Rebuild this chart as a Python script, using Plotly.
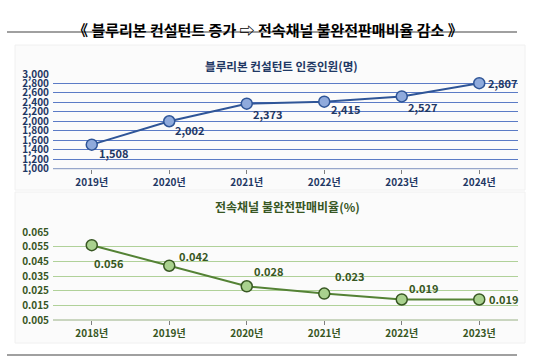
import plotly.graph_objects as go

top_years = ["2019년", "2020년", "2021년", "2022년", "2023년", "2024년"]
top_values = [1508, 2002, 2373, 2415, 2527, 2807]
top_labels = ["1,508", "2,002", "2,373", "2,415", "2,527", "2,807"]
top_title = "블루리본 컨설턴트 인증인원(명)"

bot_years = ["2018년", "2019년", "2020년", "2021년", "2022년", "2023년"]
bot_values = [0.056, 0.042, 0.028, 0.023, 0.019, 0.019]
bot_labels = ["0.056", "0.042", "0.028", "0.023", "0.019", "0.019"]
bot_title = "전속채널 불완전판매비율(%)"

main_title = "《 블루리본 컨설턴트 증가 ⇨ 전속채널 불완전판매비율 감소 》"

# label offsets (style): pixels right / down from each point
top_dx = [22, 21, 21, 21.5, 21.5, 24]
top_dy = [8.4, 8.7, 10.3, 7.3, 10.3, 0]
bot_dx = [17, 24.5, 22, 25.5, 22, 24.5]
bot_dy = [17.5, -10, -15, -17.6, -11, 0]

W, H = 540, 359
FONT = "Noto Sans CJK KR"
BLUE_TXT = "#1F3864"
GREEN_TXT = "#375623"

def px(x):
    return x / W

def py(y):
    return 1 - y / H

fig = go.Figure()

fig.add_trace(go.Scatter(
    x=top_years, y=top_values, mode="lines+markers",
    line=dict(color="#2F5597", width=2),
    marker=dict(size=11, color="#8FAADC", line=dict(color="#2F5597", width=1.5)),
    xaxis="x", yaxis="y", cliponaxis=False, showlegend=False,
))
fig.add_trace(go.Scatter(
    x=bot_years, y=bot_values, mode="lines+markers",
    line=dict(color="#548235", width=2),
    marker=dict(size=11, color="#A9D18E", line=dict(color="#385723", width=1.5)),
    xaxis="x2", yaxis="y2", cliponaxis=False, showlegend=False,
))

for xv, yv, t, dx, dy in zip(top_years, top_values, top_labels, top_dx, top_dy):
    fig.add_annotation(x=xv, y=yv, xref="x", yref="y", text=t, showarrow=False,
                       xshift=dx, yshift=-dy,
                       font=dict(family=FONT, size=11, color=BLUE_TXT, weight="bold"))
for xv, yv, t, dx, dy in zip(bot_years, bot_values, bot_labels, bot_dx, bot_dy):
    fig.add_annotation(x=xv, y=yv, xref="x2", yref="y2", text=t, showarrow=False,
                       xshift=dx, yshift=-dy,
                       font=dict(family=FONT, size=11, color=GREEN_TXT, weight="bold"))

xd = [px(53), px(518)]
tickfont_b = dict(family=FONT, size=10, color=BLUE_TXT, weight="bold")
tickfont_g = dict(family=FONT, size=10, color=GREEN_TXT, weight="bold")

fig.update_layout(
    template="none",
    width=W, height=H,
    margin=dict(l=0, r=0, t=0, b=0, pad=0),
    paper_bgcolor="white", plot_bgcolor="rgba(0,0,0,0)",
    font=dict(family=FONT),
    showlegend=False,
    xaxis=dict(domain=xd, anchor="y", type="category", range=[-0.5, 5.5], automargin=False,
               showgrid=False, showline=False, ticks="outside", ticklen=4,
               tickcolor="#7F7F7F", tickfont=tickfont_b),
    yaxis=dict(domain=[py(168.7), py(74)], anchor="x", range=[1000, 3000], dtick=200,
               tickformat=",d", showgrid=True, gridcolor="#5B7BC6", gridwidth=1, automargin=False,
               zeroline=False, showline=False, ticks="", tickfont=tickfont_b,
               ticklabelstandoff=3),
    xaxis2=dict(domain=xd, anchor="y2", type="category", range=[-0.5, 5.5], automargin=False,
                showgrid=False, showline=False, ticks="outside", ticklen=4,
                tickcolor="#7F7F7F", tickfont=tickfont_g),
    yaxis2=dict(domain=[py(320), py(232)], anchor="x2", range=[0.005, 0.065], dtick=0.01,
                tick0=0.005, tickformat=".3f", showgrid=True, gridcolor="#B0D199", automargin=False,
                gridwidth=1.2, zeroline=False, showline=False, ticks="",
                tickfont=tickfont_g, ticklabelstandoff=3),
)

shapes = [
    dict(type="rect", xref="paper", yref="paper", x0=px(15), x1=px(525), y0=py(190), y1=py(45),
         fillcolor="#FBFBFB", line=dict(color="#F0F0F0", width=1), layer="below"),
    dict(type="rect", xref="paper", yref="paper", x0=px(15), x1=px(525), y0=py(343), y1=py(192),
         fillcolor="#FBFBFB", line=dict(color="#F0F0F0", width=1), layer="below"),
    dict(type="line", xref="paper", yref="paper", x0=px(7), x1=px(517), y0=py(32), y1=py(32),
         line=dict(color="#808080", width=1.5)),
    dict(type="line", xref="paper", yref="paper", x0=px(7), x1=px(517), y0=py(355), y1=py(355),
         line=dict(color="#808080", width=1.5)),
    dict(type="line", xref="paper", yref="paper", x0=px(53), x1=px(518), y0=py(168.7), y1=py(168.7),
         line=dict(color="#7F93BF", width=1)),
    dict(type="line", xref="paper", yref="paper", x0=px(53), x1=px(518), y0=py(320), y1=py(320),
         line=dict(color="#98B084", width=1)),
]
fig.update_layout(shapes=shapes)

fig.add_annotation(text="<b>" + main_title + "</b>", xref="paper", yref="paper",
                   x=px(268), y=py(17), showarrow=False,
                   font=dict(family=FONT, size=15, color="#000000"))
fig.add_annotation(text="<b>" + top_title + "</b>", xref="paper", yref="paper",
                   x=px(281), y=py(56), showarrow=False,
                   font=dict(family=FONT, size=11.6, color=BLUE_TXT))
fig.add_annotation(text="<b>" + bot_title + "</b>", xref="paper", yref="paper",
                   x=px(287), y=py(207), showarrow=False,
                   font=dict(family=FONT, size=12, color=GREEN_TXT))

fig.write_html("out.html", config={"displayModeBar": False},
               post_script="document.body.style.margin='0';document.body.style.overflow='hidden';")
